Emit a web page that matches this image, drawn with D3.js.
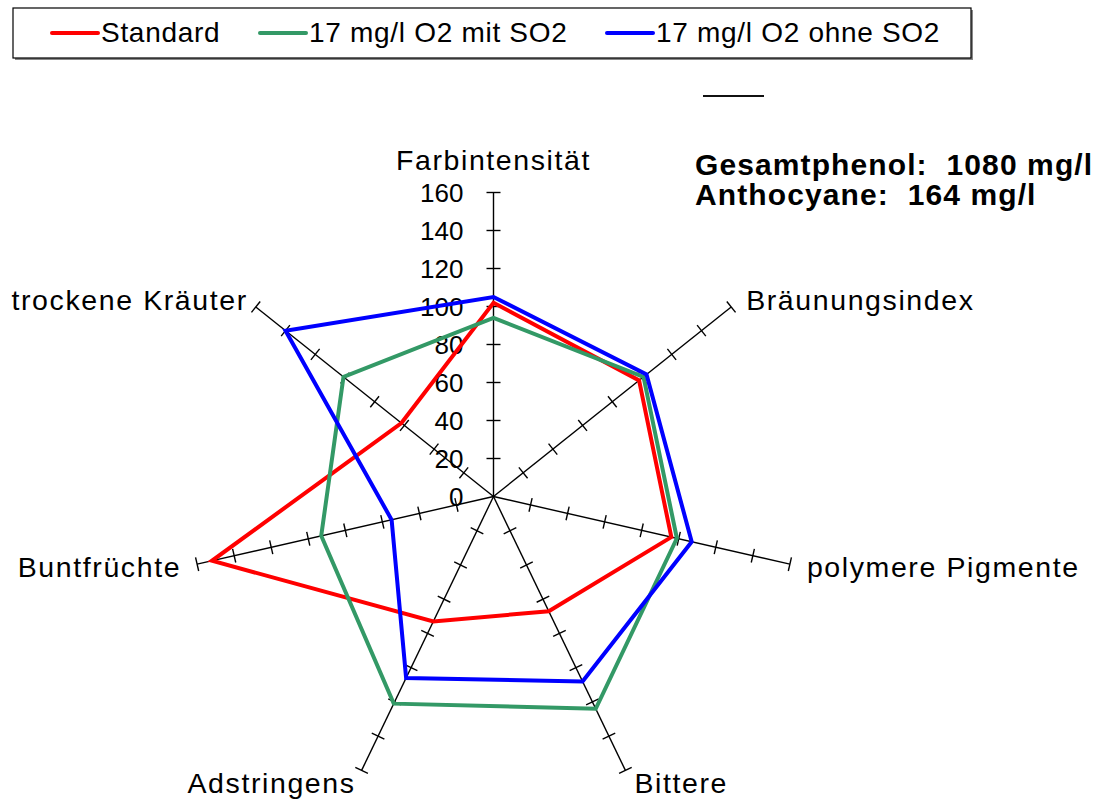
<!DOCTYPE html>
<html>
<head>
<meta charset="utf-8">
<script src="https://cdn.jsdelivr.net/npm/d3@7"></script>
<style>
  body { margin: 0; background: #fff; }
  svg { display: block; font-family: "Liberation Sans", Arial, sans-serif; }
</style>
</head>
<body>
<svg id="chart" width="1099" height="799"></svg>
<script>
  // chart data
  var axes = ["Farbintensität", "Bräunungsindex", "polymere Pigmente", "Bittere", "Adstringens", "Buntfrüchte", "trockene Kräuter"];
  var seriesNames = ["Standard", "17 mg/l O2 mit SO2", "17 mg/l O2 ohne SO2"];
  var standard = [102, 98, 96, 67, 73, 152, 62];
  var mitSO2 = [94, 101, 99, 124, 121, 93, 101];
  var ohneSO2 = [105, 103, 107, 108, 106, 55, 140];
  var tickValues = [0, 20, 40, 60, 80, 100, 120, 140, 160];
  var infoLines = ["Gesamtphenol:  1080 mg/l", "Anthocyane:  164 mg/l"];

  var colors = ["#ff0000", "#339966", "#0000ff"];
  var cx = 493.5, cy = 496.5;

  var svg = d3.select("#chart");

  var r = d3.scaleLinear().domain([0, 160]).range([0, 304]);
  var angle = d3.scaleLinear().domain([0, axes.length]).range([0, 2 * Math.PI]);

  function pt(i, v) {
    var a = angle(i);
    return [cx + r(v) * Math.sin(a), cy - r(v) * Math.cos(a)];
  }

  // axes with cross ticks
  var gAxes = svg.append("g");
  axes.forEach(function(name, i) {
    var end = pt(i, 160);
    gAxes.append("line")
      .attr("x1", cx).attr("y1", cy)
      .attr("x2", end[0]).attr("y2", end[1])
      .attr("stroke", "#000").attr("stroke-width", 1.4);
    var a = angle(i);
    var px = Math.cos(a), py = Math.sin(a);
    tickValues.slice(1).forEach(function(t) {
      var p = pt(i, t);
      gAxes.append("line")
        .attr("x1", p[0] - 7 * px).attr("y1", p[1] - 7 * py)
        .attr("x2", p[0] + 7 * px).attr("y2", p[1] + 7 * py)
        .attr("stroke", "#000").attr("stroke-width", 1.4);
    });
  });

  // tick labels on the first axis
  svg.append("g").selectAll("text")
    .data(tickValues)
    .join("text")
      .attr("x", cx - 30)
      .attr("y", function(d) { return cy - r(d) + 9; })
      .attr("text-anchor", "end")
      .attr("font-size", 26)
      .text(function(d) { return d; });

  // axis labels
  var labelPos = [
    {anchor: "middle", dx: 0, dy: -23},
    {anchor: "start", dx: 15, dy: 3},
    {anchor: "start", dx: 17, dy: 13},
    {anchor: "start", dx: 9, dy: 23},
    {anchor: "end", dx: -6, dy: 23},
    {anchor: "end", dx: -16, dy: 13},
    {anchor: "end", dx: -8, dy: 3}
  ];
  svg.append("g").selectAll("text")
    .data(axes)
    .join("text")
      .attr("x", function(d, i) { return pt(i, 160)[0] + labelPos[i].dx; })
      .attr("y", function(d, i) { return pt(i, 160)[1] + labelPos[i].dy; })
      .attr("text-anchor", function(d, i) { return labelPos[i].anchor; })
      .attr("font-size", 28.5)
      .attr("letter-spacing", 1.6)
      .text(function(d) { return d; });

  // series polygons
  var line = d3.line()
    .x(function(d, i) { return pt(i % axes.length, d)[0]; })
    .y(function(d, i) { return pt(i % axes.length, d)[1]; })
    .curve(d3.curveLinearClosed);

  [standard, mitSO2, ohneSO2].forEach(function(values, k) {
    svg.append("path")
      .datum(values)
      .attr("fill", "none")
      .attr("stroke", colors[k])
      .attr("stroke-width", 4)
      .attr("stroke-linejoin", "miter")
      .attr("d", line);
  });

  // info text
  svg.append("g").selectAll("text")
    .data(infoLines)
    .join("text")
      .attr("x", 695)
      .attr("y", function(d, i) { return 175 + i * 30; })
      .attr("font-size", 30)
      .attr("font-weight", "bold")
      .attr("letter-spacing", 1.1)
      .style("white-space", "pre")
      .text(function(d) { return d; });

  // stray short line
  svg.append("line")
    .attr("x1", 703).attr("y1", 96).attr("x2", 764).attr("y2", 96)
    .attr("stroke", "#111").attr("stroke-width", 2);

  // legend
  var legend = svg.append("g");
  legend.append("rect")
    .attr("x", 15).attr("y", 10).attr("width", 958).attr("height", 50)
    .attr("fill", "#888");
  legend.append("rect")
    .attr("x", 13).attr("y", 8).attr("width", 958).attr("height", 50)
    .attr("fill", "#fff").attr("stroke", "#000").attr("stroke-width", 1.2);
  var legendX = [52, 260, 607];
  seriesNames.forEach(function(name, k) {
    legend.append("line")
      .attr("x1", legendX[k]).attr("y1", 33)
      .attr("x2", legendX[k] + 46).attr("y2", 33)
      .attr("stroke", colors[k]).attr("stroke-width", 4)
      .attr("stroke-linecap", "round");
    legend.append("text")
      .attr("x", legendX[k] + 49).attr("y", 42)
      .attr("font-size", 28)
      .attr("letter-spacing", 0.7)
      .text(name);
  });
</script>
</body>
</html>
